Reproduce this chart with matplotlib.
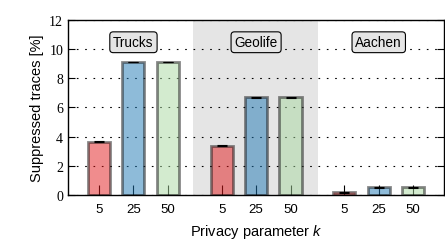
import matplotlib
matplotlib.use('Agg')
import matplotlib.pyplot as plt
import numpy as np

plt.rcParams['mathtext.fontset'] = 'custom'
plt.rcParams['mathtext.it'] = 'Liberation Sans:italic'
plt.rcParams['mathtext.rm'] = 'Liberation Sans'

# suppressed traces per dataset, k = 5, 25, 50
datasets = ['Trucks', 'Geolife', 'Aachen']
k_labels = ['5', '25', '50']
trucks = [3.65, 9.1, 9.1]
geolife = [3.37, 6.7, 6.7]
aachen = [0.2, 0.54, 0.54]
errs = [0.03, 0.03, 0.03]

colors = ['#e31a1c', '#1f78b4', '#a9d9a1']
gap = 3.565

fig = plt.figure(figsize=(4.45, 2.51), dpi=100)
ax = fig.add_axes([0.153, 0.219, 0.845, 0.699])

ax.axvspan(gap + 1 - 1.84, gap + 1 + 1.79, color='#e5e5e5', lw=0, zorder=0)

xs = []
for g, vals in enumerate([trucks, geolife, aachen]):
    pos = np.arange(3) + g * gap
    xs.extend(pos)
    ax.bar(pos, vals, width=0.64, color=colors, alpha=0.5,
           edgecolor='#111111', linewidth=2, zorder=2)
    ax.errorbar(pos, vals, yerr=errs, fmt='none', ecolor='black',
                elinewidth=0.8, capsize=3.5, capthick=0.8, zorder=3)
    ax.text(1 + g * gap, 10.45, datasets[g], ha='center', va='center',
            fontsize=9.8, family='Liberation Sans',
            bbox=dict(boxstyle='round,pad=0.25', fc='#e5e5e5', ec='black', lw=0.8),
            zorder=4)

ax.set_xlim(-0.9, 10.03)
ax.set_ylim(0, 12)
ax.set_xticks(xs)
ax.set_xticklabels(k_labels * 3, family='Liberation Sans', fontsize=9.5)
ax.set_yticks(range(0, 13, 2))
ax.set_yticklabels([str(v) for v in range(0, 13, 2)], family='Liberation Serif', fontsize=10)
ax.tick_params(axis='x', direction='in', length=7, width=0.8, pad=6)
ax.tick_params(axis='y', direction='in', length=5, width=0.8, right=True)
ax.yaxis.grid(True, linestyle=(0, (1.5, 6)), color='black', lw=0.8, zorder=1)
ax.set_axisbelow(True)
for s in ax.spines.values():
    s.set_linewidth(1.0)

ax.set_ylabel('Suppressed traces [%]', family='Liberation Sans', fontsize=10.5)
ax.set_xlabel('Privacy parameter $k$', family='Liberation Sans', fontsize=10.5, labelpad=5)

fig.savefig('out.png', dpi=100)
